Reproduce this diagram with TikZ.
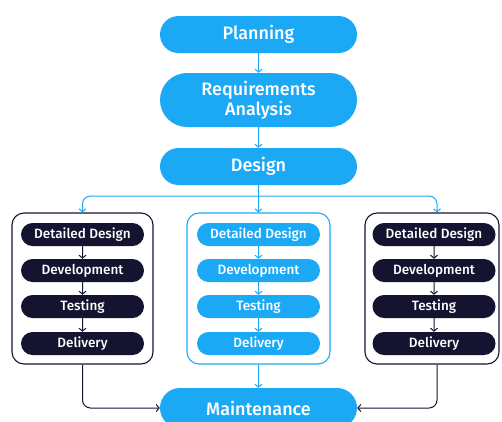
\documentclass[tikz,border=0pt]{standalone}
\usepackage{fontspec}
\setmainfont{Fira Sans}[BoldFont={Fira Sans Medium}]
\usepackage{xcolor}
\usetikzlibrary{arrows.meta, positioning, shapes.misc}

\definecolor{skyblue}{RGB}{27,169,245}
\definecolor{navy}{RGB}{20,20,48}

\begin{document}
\begin{tikzpicture}[
  x=1pt, y=-1pt,
  stage/.style={rounded rectangle, fill=skyblue, text=white, font=\fontsize{18}{20}\selectfont\bfseries, minimum width=197pt, minimum height=37pt, align=center, inner sep=0pt},
  task/.style={rounded rectangle, font=\fontsize{13.5}{15}\selectfont\bfseries, text=white, minimum width=123pt, minimum height=23pt, inner sep=0pt},
  darktask/.style={task, fill=navy},
  lighttask/.style={task, fill=skyblue},
  group/.style={draw, rounded corners=12pt, line width=1.1pt, minimum width=141pt, minimum height=151pt, inner sep=0pt},
  link/.style={line width=1pt, -{Straight Barb[length=3pt, width=7pt]}},
]
\useasboundingbox[fill=white] (0,0) rectangle (502,421);

% main stages
\node[stage] (plan) at (258.5,34.5) {Planning};
\node[stage, minimum height=54pt] (reqs) at (258.5,100) {Requirements\\Analysis};
\node[stage] (design) at (258.5,166.5) {Design};
\node[stage, minimum height=40pt] (maint) at (258.5,408) {Maintenance};

% three parallel streams
\node[group, draw=navy] (lgrp) at (82.5,288.5) {};
\node[group, draw=skyblue, minimum width=143pt] (mgrp) at (258.5,288.5) {};
\node[group, draw=navy, minimum width=134pt] (rgrp) at (432,288.5) {};

\node[darktask] (ldet) at (82.5,234.5) {Detailed Design};
\node[darktask] (ldev) at (82.5,270.5) {Development};
\node[darktask] (ltst) at (82.5,306.5) {Testing};
\node[darktask] (ldel) at (82.5,343.5) {Delivery};

\node[lighttask] (mdet) at (258.5,234.5) {Detailed Design};
\node[lighttask] (mdev) at (258.5,270.5) {Development};
\node[lighttask] (mtst) at (258.5,306.5) {Testing};
\node[lighttask] (mdel) at (258.5,343.5) {Delivery};

\node[darktask] (rdet) at (434,234.5) {Detailed Design};
\node[darktask] (rdev) at (434,270.5) {Development};
\node[darktask] (rtst) at (434,306.5) {Testing};
\node[darktask] (rdel) at (434,343.5) {Delivery};

% connectors
\coordinate (split) at (258.5,196);
\draw[link, skyblue] (plan) -- (reqs);
\draw[link, skyblue] (reqs) -- (design);
\draw[link, skyblue] (design) -- (mgrp);
\draw[link, skyblue, rounded corners=8pt] (split) -| (lgrp.north);
\draw[link, skyblue, rounded corners=8pt] (split) -| ([xshift=5pt]rgrp.north);

\draw[link, navy] (ldet) -- (ldev);
\draw[link, navy] (ldev) -- (ltst);
\draw[link, navy] (ltst) -- (ldel);
\draw[link, skyblue] (mdet) -- (mdev);
\draw[link, skyblue] (mdev) -- (mtst);
\draw[link, skyblue] (mtst) -- (mdel);
\draw[link, navy] (rdet) -- (rdev);
\draw[link, navy] (rdev) -- (rtst);
\draw[link, navy] (rtst) -- (rdel);

\draw[link, navy, rounded corners=8pt] (lgrp.south) |- (maint.west);
\draw[link, skyblue] (mgrp) -- (maint);
\draw[link, navy, rounded corners=8pt] ([xshift=5pt]rgrp.south) |- (maint.east);

\end{tikzpicture}
\end{document}
